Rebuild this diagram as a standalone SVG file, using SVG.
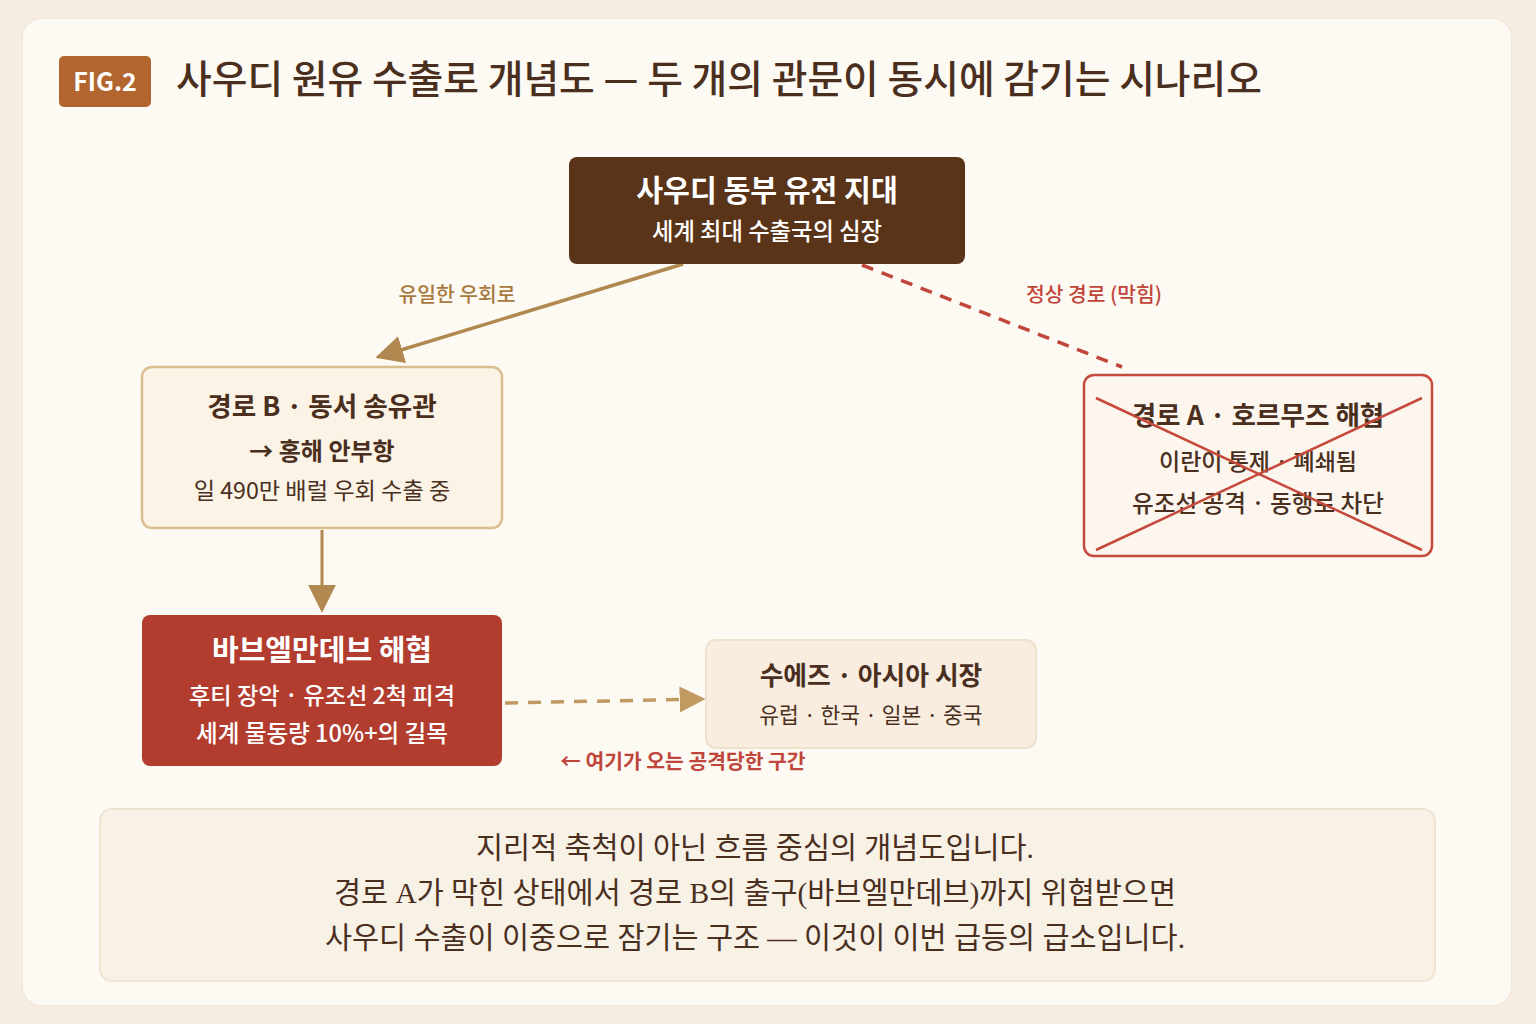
<svg xmlns="http://www.w3.org/2000/svg" width="1536" height="1024" viewBox="0 0 1536 1024">
<style>
.k{font-family:"Noto Sans CJK KR","Noto Sans",sans-serif}
.s{font-family:"Liberation Serif","Noto Sans CJK KR",serif}
.w{fill:#ffffff}
.d{fill:#4a2f1e}
.m{text-anchor:middle}
.b{font-weight:700}
</style>
<defs>
<marker id="ahB" viewBox="0 0 10 10" refX="9" refY="5" markerWidth="28" markerHeight="28" markerUnits="userSpaceOnUse" orient="auto"><path d="M0,0 L10,5 L0,10 z" fill="#b08850"/></marker>
<marker id="ahD" viewBox="0 0 10 10" refX="9" refY="5" markerWidth="26" markerHeight="26" markerUnits="userSpaceOnUse" orient="auto"><path d="M0,0 L10,5 L0,10 z" fill="#c09a60"/></marker>
</defs>
<rect x="0" y="0" width="1536" height="1024" fill="#f6eee3"/>
<rect x="22" y="18" width="1490" height="988" rx="20" fill="#fdf9f3" stroke="#f3e9dc" stroke-width="2"/>

<g id="header">
<rect x="59" y="56" width="92" height="51" rx="5" fill="#b2652f"/>
<text x="105" y="91" class="k w m b" font-size="25">FIG.2</text>
<text x="176" y="93" class="k d" font-size="38.8" font-weight="500">사우디 원유 수출로 개념도 — 두 개의 관문이 동시에 감기는 시나리오</text>
</g>

<g id="connectors">
<line x1="683" y1="264" x2="378" y2="357" stroke="#b08850" stroke-width="3.5" marker-end="url(#ahB)"/>
<line x1="862" y1="265" x2="1122" y2="367" stroke="#c0453a" stroke-width="3.5" stroke-dasharray="12,9"/>
<line x1="322" y1="530" x2="322" y2="610" stroke="#b08850" stroke-width="3" marker-end="url(#ahB)"/>
<line x1="505" y1="703" x2="703" y2="699" stroke="#c09a60" stroke-width="3.5" stroke-dasharray="13,10" marker-end="url(#ahD)"/>
<text x="457" y="302" class="k m" font-size="20.4" fill="#a87a40" font-weight="500">유일한 우회로</text>
<text x="1094" y="302" class="k m" font-size="20.4" fill="#c0453a" font-weight="500">정상 경로 (막힘)</text>
<text x="683" y="769" class="k m" font-size="20.4" fill="#c0453a" font-weight="700">← 여기가 오는 공격당한 구간</text>
</g>

<g id="node-source">
<rect x="569" y="157" width="396" height="107" rx="8" fill="#5a3418"/>
<text x="767" y="201" class="k w m b" font-size="29.2">사우디 동부 유전 지대</text>
<text x="767" y="240" class="k w m" font-size="23.3" font-weight="500">세계 최대 수출국의 심장</text>
</g>

<g id="node-routeB">
<rect x="142" y="367" width="360" height="161" rx="10" fill="#fbf3e6" stroke="#dcbd8e" stroke-width="2.5"/>
<text x="322" y="416" class="k d m b" font-size="26.6">경로 B · 동서 송유관</text>
<text x="322" y="460" class="k d m b" font-size="24">→ 홍해 안부항</text>
<text x="322" y="499" class="k d m" font-size="23.2">일 490만 배럴 우회 수출 중</text>
</g>

<g id="node-routeA">
<rect x="1084" y="375" width="348" height="181" rx="10" fill="#fcf6ee" stroke="#c64a3c" stroke-width="2.5"/>
<text x="1258" y="425" class="k d m b" font-size="26.6">경로 A · 호르무즈 해협</text>
<text x="1258" y="470" class="k d m" font-size="23" font-weight="500">이란이 통제 · 폐쇄됨</text>
<text x="1258" y="512" class="k d m" font-size="23.6" font-weight="500">유조선 공격 · 동행로 차단</text>
<line x1="1096" y1="398" x2="1422" y2="550" stroke="#c64a3c" stroke-width="2.5"/>
<line x1="1096" y1="550" x2="1422" y2="398" stroke="#c64a3c" stroke-width="2.5"/>
</g>

<g id="node-babelmandeb">
<rect x="142" y="615" width="360" height="151" rx="8" fill="#b23d2f"/>
<text x="322" y="661" class="k w m b" font-size="29">바브엘만데브 해협</text>
<text x="322" y="704" class="k w m" font-size="23.2" font-weight="500">후티 장악 · 유조선 2척 피격</text>
<text x="322" y="742" class="k w m" font-size="23.6" font-weight="500">세계 물동량 10%+의 길목</text>
</g>

<g id="node-market">
<rect x="706" y="640" width="330" height="108" rx="10" fill="#f8eddf" stroke="#f0e1cd" stroke-width="2"/>
<text x="871" y="685" class="k d m b" font-size="25.8">수에즈 · 아시아 시장</text>
<text x="871" y="723" class="k d m" font-size="21.5">유럽 · 한국 · 일본 · 중국</text>
</g>

<g id="note">
<rect x="100" y="809" width="1335" height="172" rx="12" fill="#f8f1e6" stroke="#efe3d2" stroke-width="2"/>
<text x="755" y="858" class="s d m" font-size="29.4">지리적 축척이 아닌 흐름 중심의 개념도입니다.</text>
<text x="755" y="903" class="s d m" font-size="29.4">경로 A가 막힌 상태에서 경로 B의 출구(바브엘만데브)까지 위협받으면</text>
<text x="755" y="948" class="s d m" font-size="29.4">사우디 수출이 이중으로 잠기는 구조 — 이것이 이번 급등의 급소입니다.</text>
</g>
</svg>
